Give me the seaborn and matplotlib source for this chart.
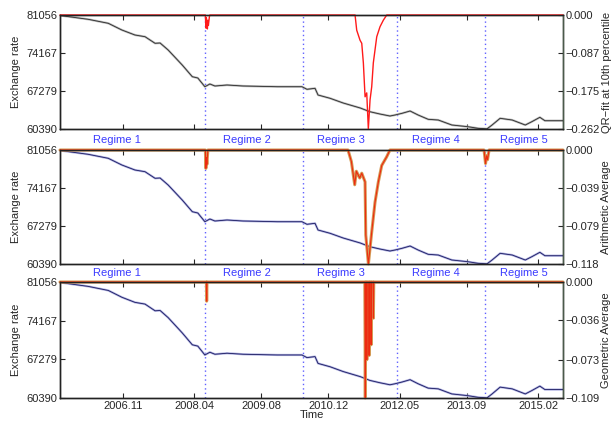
import matplotlib
matplotlib.use("Agg")
import numpy as np
import pandas as pd
import seaborn as sns
import matplotlib.pyplot as plt

sns.set_style("ticks")
plt.rcParams["font.family"] = ["Liberation Sans", "DejaVu Sans"]
plt.rcParams["xtick.direction"] = "in"
plt.rcParams["ytick.direction"] = "in"

# ---------------- data ----------------
rate_time = [2005.58, 2006.14, 2006.54, 2006.81, 2007.07, 2007.27, 2007.47, 2007.57,
             2007.73, 2008.01, 2008.21, 2008.32, 2008.46, 2008.56, 2008.66, 2008.90,
             2009.22, 2009.90, 2010.39, 2010.49, 2010.65, 2010.71, 2010.95, 2011.21,
             2011.55, 2011.74, 2011.94, 2012.14, 2012.24, 2012.38, 2012.54, 2012.70,
             2012.90, 2013.10, 2013.37, 2013.69, 2013.89, 2014.07, 2014.17, 2014.33,
             2014.57, 2014.83, 2014.96, 2015.12, 2015.22, 2015.58]
rate_value = [80965, 80276, 79551, 78337, 77430, 77122, 75925, 75980,
              74711, 71991, 69870, 69634, 68057, 68546, 68184, 68365,
              68184, 68057, 68057, 67586, 67767, 66552, 65954, 65102,
              64195, 63525, 63107, 62744, 62925, 63234, 63651, 62925,
              62146, 62019, 61113, 60805, 60515, 60420, 61113, 62328,
              62019, 61113, 61712, 62509, 61893, 61893]

qr_time = [2005.58, 2008.47, 2008.48, 2008.49, 2008.51, 2008.52, 2008.53, 2008.55, 2008.56,
           2011.446, 2011.479, 2011.545, 2011.579, 2011.611, 2011.645, 2011.678, 2011.710,
           2011.744, 2011.777, 2011.809, 2011.843, 2011.877, 2011.942, 2012.008, 2012.076, 2015.58]
qr_value = [0.0, 0.0, -0.030, -0.006, -0.032, -0.012, -0.024, -0.004, 0.0,
            0.0, -0.035, -0.058, -0.065, -0.110, -0.188, -0.179, -0.262,
            -0.195, -0.165, -0.110, -0.080, -0.050, -0.027, -0.012, 0.0, 0.0]

arith_time = [2005.58, 2008.47, 2008.48, 2008.49, 2008.50, 2008.52,
              2011.306, 2011.373, 2011.439, 2011.472, 2011.539, 2011.579, 2011.645, 2011.659,
              2011.711, 2011.777, 2011.843, 2011.909, 2011.976, 2012.075, 2012.14,
              2014.01, 2014.04, 2014.06, 2014.08, 2014.11, 2015.58]
arith_value = [0.0, 0.0, -0.019, -0.008, -0.015, 0.0,
               0.0, -0.012, -0.036, -0.022, -0.029, -0.024, -0.033, -0.088,
               -0.118, -0.085, -0.054, -0.033, -0.016, -0.007, 0.0,
               0.0, -0.014, -0.006, -0.010, 0.0, 0.0]

geo_time = [2005.58, 2008.490, 2008.496, 2008.502,
            2011.640, 2011.650, 2011.660, 2011.673, 2011.680, 2011.688,
            2011.718, 2011.725, 2011.733, 2011.758, 2011.765, 2011.773,
            2011.802, 2011.810, 2011.818, 2015.58]
geo_value = [0.0, 0.0, -0.018, 0.0,
             0.0, -0.109, 0.0, 0.0, -0.073, 0.0,
             0.0, -0.069, 0.0, 0.0, -0.059, 0.0,
             0.0, -0.034, 0.0, 0.0]

regime_bounds = [2008.463, 2010.412, 2012.280, 2014.030]
regime_labels = ["Regime 1", "Regime 2", "Regime 3", "Regime 4", "Regime 5"]
regime_label_pos = [2006.714, 2009.298, 2011.167, 2013.056, 2014.805]

xtick_pos = [2006.833, 2008.25, 2009.583, 2010.917, 2012.333, 2013.667, 2015.083]
xtick_labels = ["2006.11", "2008.04", "2009.08", "2010.12", "2012.05", "2013.09", "2015.02"]
left_ticks = [60390, 67279, 74167, 81056]

right_names = ["QR\u2212fit at 10th percentile", "Arithmetic Average", "Geometric Average"]
right_ticks = [[-0.262, -0.175, -0.087, 0.0], [-0.118, -0.079, -0.039, 0.0], [-0.109, -0.073, -0.036, 0.0]]
right_series = [(qr_time, qr_value), (arith_time, arith_value), (geo_time, geo_value)]

# ---------------- figure ----------------
fig = plt.figure(figsize=(6.14, 4.21), dpi=100)
W, H = 614, 421
x0, x1 = 60, 563
panels_px = [(15, 129), (150, 264), (282, 398)]
label_offset_px = [11, 9, None]

rate_df = pd.DataFrame({"t": rate_time, "v": rate_value})
fs = 8

for i, (top, bot) in enumerate(panels_px):
    ax = fig.add_axes([x0 / W, 1 - bot / H, (x1 - x0) / W, (bot - top) / H])
    if i == 0:
        halo, core = "#b8b8b8", "#2a2a2a"
    else:
        halo, core = "#aeb0e0", "#1a1a60"
    sns.lineplot(data=rate_df, x="t", y="v", ax=ax, color=halo, lw=1.6,
                 estimator=None, sort=False)
    sns.lineplot(data=rate_df, x="t", y="v", ax=ax, color=core, lw=0.6,
                 estimator=None, sort=False)
    for b in regime_bounds:
        ax.axvline(b, color="#6060ff", ls=(0, (1, 2.2)), lw=1.0, zorder=1)
    ax.set_xlim(2005.58, 2015.58)
    ax.set_ylim(left_ticks[0], left_ticks[-1])
    ax.set_yticks(left_ticks)
    ax.set_yticklabels([str(v) for v in left_ticks], fontsize=fs)
    ax.set_xticks(xtick_pos)
    ax.tick_params(axis="x", top=True, bottom=True, length=3.5, width=0.8, pad=2.5)
    ax.tick_params(axis="y", left=True, length=3.5, width=0.8, pad=2)
    if i == 2:
        ax.set_xticklabels(xtick_labels, fontsize=fs)
        ax.set_xlabel("Time", fontsize=fs, labelpad=-1)
    else:
        ax.set_xticklabels([])
        ax.set_xlabel("")
    ax.set_ylabel("Exchange rate", fontsize=fs, labelpad=4)
    for s in ax.spines.values():
        s.set_linewidth(1.0)
        s.set_color("#222222")

    if label_offset_px[i] is not None:
        yoff = -label_offset_px[i] / (bot - top)
        for name, pos in zip(regime_labels, regime_label_pos):
            ax.text(pos, yoff, name, transform=ax.get_xaxis_transform(), ha="center",
                    va="center", color="#3a3aff", fontsize=fs)

    ax2 = ax.twinx()
    t, v = right_series[i]
    sdf = pd.DataFrame({"t": t, "v": v})
    if i == 0:
        sns.lineplot(data=sdf, x="t", y="v", ax=ax2, color="#ff1a1a", lw=1.0,
                     estimator=None, sort=False, clip_on=False)
    else:
        sns.lineplot(data=sdf, x="t", y="v", ax=ax2, color="#d49a55", lw=2.2,
                     estimator=None, sort=False, clip_on=False)
        sns.lineplot(data=sdf, x="t", y="v", ax=ax2, color="#ee2a10", lw=0.8,
                     estimator=None, sort=False, clip_on=False)
    ax2.set_ylim(right_ticks[i][0], right_ticks[i][-1])
    ax2.set_yticks(right_ticks[i])
    ax2.set_yticklabels([f"{v:.3f}".replace("-", "\u2212") for v in right_ticks[i]], fontsize=fs)
    ax2.tick_params(axis="y", right=True, length=3.5, width=0.8, pad=2)
    ax2.set_ylabel(right_names[i], fontsize=fs, labelpad=1)
    ax2.set_xlim(2005.58, 2015.58)
    for s in ax2.spines.values():
        s.set_linewidth(1.0)
        s.set_color("#222222")
    ax2.spines["right"].set_color("#4a5a4a")

fig.savefig("out.png", dpi=100)
